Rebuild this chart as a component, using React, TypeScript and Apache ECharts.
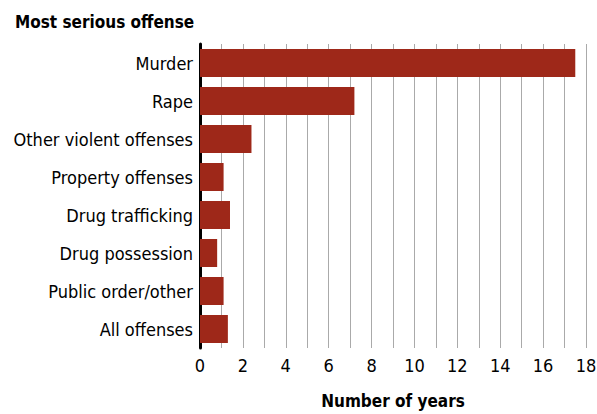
import React, { useEffect, useRef } from "react";
import * as echarts from "echarts";

const categories = [
  "Murder",
  "Rape",
  "Other violent offenses",
  "Property offenses",
  "Drug trafficking",
  "Drug possession",
  "Public order/other",
  "All offenses",
];
const years = [17.5, 7.2, 2.4, 1.1, 1.4, 0.8, 1.1, 1.3];

const FONT = "'DejaVu Sans Condensed', 'Liberation Sans Narrow', sans-serif";

export default function App() {
  const ref = useRef<HTMLDivElement>(null);
  useEffect(() => {
    if (!ref.current) return;
    const chart = echarts.init(ref.current, null, { renderer: "svg" });
    chart.setOption({
      animation: false,
      textStyle: { fontFamily: FONT },
      title: {
        text: "Most serious offense",
        left: 10,
        top: 8,
        textStyle: { fontFamily: FONT, fontSize: 17, fontWeight: "bold", color: "#000" },
      },
      grid: { left: 200, right: 11, top: 44, bottom: 66, containLabel: false, outerBoundsMode: "none" },
      xAxis: {
        type: "value",
        min: 0,
        max: 18,
        interval: 1,
        name: "Number of years",
        nameLocation: "middle",
        nameGap: 44,
        nameTextStyle: { fontFamily: FONT, fontSize: 17, fontWeight: "bold", color: "#000" },
        axisLine: { show: false },
        axisTick: { show: false },
        axisLabel: {
          fontFamily: FONT,
          fontSize: 18,
          color: "#000",
          margin: 8,
          formatter: (v: number) => (v % 2 === 0 ? String(v) : ""),
        },
        splitLine: { show: true, lineStyle: { color: "#aaaaaa", width: 1 } },
      },
      yAxis: {
        type: "category",
        data: categories,
        inverse: true,
        axisLine: { show: true, lineStyle: { color: "#000", width: 3 } },
        axisTick: { show: false },
        axisLabel: { fontFamily: FONT, fontSize: 18, color: "#000", margin: 7 },
      },
      series: [
        {
          type: "bar",
          data: years,
          barWidth: 28,
          itemStyle: { color: "#9e2819" },
        },
      ],
    });
    return () => chart.dispose();
  }, []);
  return (
    <div
      ref={ref}
      style={{ position: "absolute", left: 0, top: 0, width: 597, height: 414 }}
    />
  );
}
